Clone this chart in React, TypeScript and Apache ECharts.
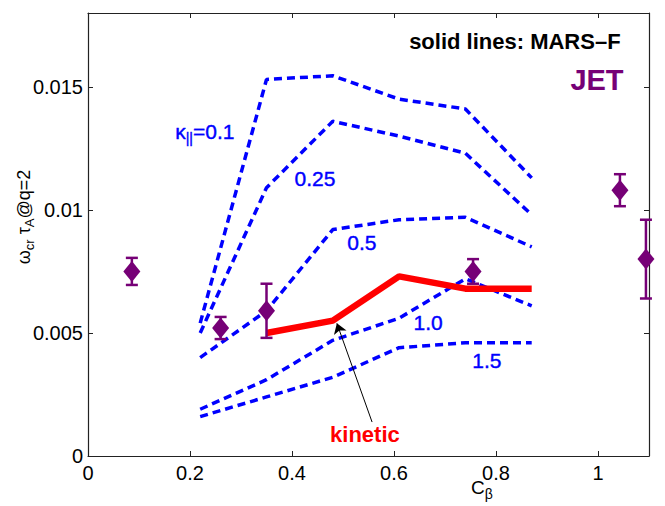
import React, { useEffect, useRef } from 'react';
import * as echarts from 'echarts';

// ---- data ----
const modelX = [0.22, 0.35, 0.48, 0.61, 0.74, 0.87];
const kappa01 = [0.0054, 0.0153, 0.01545, 0.0145, 0.0141, 0.0113];
const kappa025 = [0.005, 0.0109, 0.0136, 0.013, 0.0123, 0.0098];
const kappa05 = [0.004, 0.0059, 0.0092, 0.0096, 0.0097, 0.0085];
const kappa10 = [0.0019, 0.0031, 0.0047, 0.0056, 0.0072, 0.0061];
const kappa15 = [0.0016, 0.0024, 0.0032, 0.0044, 0.0046, 0.0046];

const kineticX = [0.35, 0.48, 0.61, 0.74, 0.87];
const kineticY = [0.005, 0.0055, 0.0073, 0.0068, 0.0068];

const jetX = [0.086, 0.26, 0.35, 0.755, 1.043, 1.094];
const jetY = [0.0075, 0.0052, 0.0059, 0.0075, 0.0108, 0.008];
const jetErr = [0.00055, 0.00045, 0.0011, 0.0005, 0.00065, 0.0016];

// annotation anchors (data coordinates)
const labelTexts = ['{a|κ}{s|||}{a|=0.1}', '0.25', '0.5', '1.0', '1.5', 'kinetic', 'solid lines: MARS–F', 'JET'];
const labelAnchorX = [0.229, 0.445, 0.537, 0.667, 0.782, 0.543, 0.837, 0.998];
const labelAnchorY = [0.01318, 0.01127, 0.00868, 0.00543, 0.00389, 0.00089, 0.01685, 0.01529];
const arrowFrom = [0.557, 0.00138];
const arrowTo = [0.488, 0.00539];

const FONT = '"Liberation Sans", Arial, Helvetica, sans-serif';
const BLUE = '#0000ff';
const PURPLE = '#760076';

export default function App() {
  const ref = useRef<HTMLDivElement>(null);
  useEffect(() => {
    document.body.style.margin = '0';
    const chart = echarts.init(ref.current!, null, { renderer: 'svg' });
    const blueStyle = { color: BLUE, fontSize: 21, fontWeight: 'normal', textBorderColor: BLUE, textBorderWidth: 0.4 };
    const labelStyles = [
      blueStyle, blueStyle, blueStyle, blueStyle, blueStyle,
      { color: '#ff0000', fontSize: 22, fontWeight: 'bold' },
      { color: '#000', fontSize: 22, fontWeight: 'bold' },
      { color: PURPLE, fontSize: 29, fontWeight: 'bold' },
    ];
    const axisCommon = {
      axisLine: { show: true, onZero: false, lineStyle: { color: '#222', width: 1.2 } },
      axisTick: { show: true, inside: true, length: 5, lineStyle: { color: '#222', width: 1 } },
      splitLine: { show: false },
    };
    const dashed = (data: number[], name: string) => ({
      name,
      type: 'line',
      data: modelX.map((x, i) => [x, data[i]]),
      symbol: 'none',
      showSymbol: false,
      lineStyle: { color: BLUE, width: 3.5, type: [8, 5] },
      z: 2,
    });
    const option: any = {
      animation: false,
      backgroundColor: '#fff',
      grid: { left: 88, right: 16, top: 13, bottom: 50, containLabel: false },
      xAxis: [
        {
          type: 'value', min: 0, max: 1.1, interval: 0.2, position: 'bottom', ...axisCommon,
          axisLabel: { show: true, fontSize: 20, color: '#000', margin: 7, showMaxLabel: false, fontFamily: FONT },
        },
        {
          type: 'value', min: 0, max: 1.1, interval: 0.2, position: 'top', ...axisCommon,
          axisLabel: { show: false },
        },
      ],
      yAxis: [
        {
          type: 'value', min: 0, max: 0.018, interval: 0.005, position: 'left', ...axisCommon,
          axisLabel: { show: true, fontSize: 20, color: '#000', margin: 5, showMaxLabel: false, fontFamily: FONT },
        },
        {
          type: 'value', min: 0, max: 0.018, interval: 0.005, position: 'right', ...axisCommon,
          axisLabel: { show: false },
        },
      ],
      series: [
        dashed(kappa01, 'k0.1'),
        dashed(kappa025, 'k0.25'),
        dashed(kappa05, 'k0.5'),
        dashed(kappa10, 'k1.0'),
        dashed(kappa15, 'k1.5'),
        {
          name: 'kinetic',
          type: 'line',
          data: kineticX.map((x, i) => [x, kineticY[i]]),
          symbol: 'none',
          showSymbol: false,
          lineStyle: { color: '#ff0000', width: 6.5 },
          z: 3,
        },
        {
          name: 'jetErr',
          type: 'custom',
          clip: false,
          data: jetX.map((x, i) => [x, jetY[i], jetErr[i]]),
          encode: { x: 0, y: 1 },
          z: 4,
          renderItem: (params: any, api: any) => {
            const x = api.value(0);
            const y = api.value(1);
            const e = api.value(2);
            const t = api.coord([x, y + e]);
            const b = api.coord([x, y - e]);
            const hw = 6;
            const st = { stroke: PURPLE, lineWidth: 2.5 };
            return {
              type: 'group',
              children: [
                { type: 'line', shape: { x1: t[0], y1: t[1], x2: b[0], y2: b[1] }, style: st },
                { type: 'line', shape: { x1: t[0] - hw, y1: t[1], x2: t[0] + hw, y2: t[1] }, style: st },
                { type: 'line', shape: { x1: b[0] - hw, y1: b[1], x2: b[0] + hw, y2: b[1] }, style: st },
              ],
            };
          },
        },
        {
          name: 'JET',
          type: 'scatter',
          data: jetX.map((x, i) => [x, jetY[i]]),
          symbol: 'diamond',
          symbolSize: [17, 21],
          itemStyle: { color: PURPLE, opacity: 1 },
          clip: false,
          z: 5,
        },
        {
          name: 'labels',
          type: 'scatter',
          symbolSize: 1,
          itemStyle: { color: 'rgba(0,0,0,0)', opacity: 1 },
          silent: true,
          z: 6,
          data: labelTexts.map((t, i) => ({
            value: [labelAnchorX[i], labelAnchorY[i]],
            label: {
              show: true,
              position: 'inside',
              formatter: t,
              fontFamily: FONT,
              opacity: 1,
              ...labelStyles[i],
              rich: {
                a: { fontSize: 21, color: BLUE, fontFamily: FONT, textBorderColor: BLUE, textBorderWidth: 0.4 },
                s: { fontSize: 14, color: BLUE, fontFamily: FONT, padding: [13, 0, 0, 0], textBorderColor: BLUE, textBorderWidth: 0.4 },
              },
            },
          })),
        },
        {
          name: 'arrow',
          type: 'line',
          data: [],
          markLine: {
            silent: true,
            symbol: ['none', 'arrow'],
            symbolSize: 10,
            label: { show: false },
            lineStyle: { color: '#000', width: 1, type: 'solid' },
            data: [[{ coord: arrowFrom }, { coord: arrowTo }]],
          },
        },
      ],
      graphic: [
        {
          type: 'text',
          x: 24,
          y: 217,
          rotation: Math.PI / 2,
          style: {
            text: '{a|ω}{s|cr}{a| τ}{s|A}{a|@q=2}',
            align: 'center',
            verticalAlign: 'middle',
            rich: {
              a: { fontSize: 18, fill: '#000', fontFamily: FONT },
              s: { fontSize: 13, fill: '#000', fontFamily: FONT, padding: [11, 0, 0, 0] },
            },
          },
        },
        {
          type: 'text',
          x: 482,
          y: 487,
          style: {
            text: '{a|C}{s|β}',
            align: 'center',
            verticalAlign: 'middle',
            rich: {
              a: { fontSize: 19, fill: '#000', fontFamily: FONT },
              s: { fontSize: 14, fill: '#000', fontFamily: FONT, padding: [14, 0, 0, 0] },
            },
          },
        },
      ],
    };
    chart.setOption(option);
    return () => chart.dispose();
  }, []);
  return <div ref={ref} style={{ width: 665, height: 506 }} />;
}
